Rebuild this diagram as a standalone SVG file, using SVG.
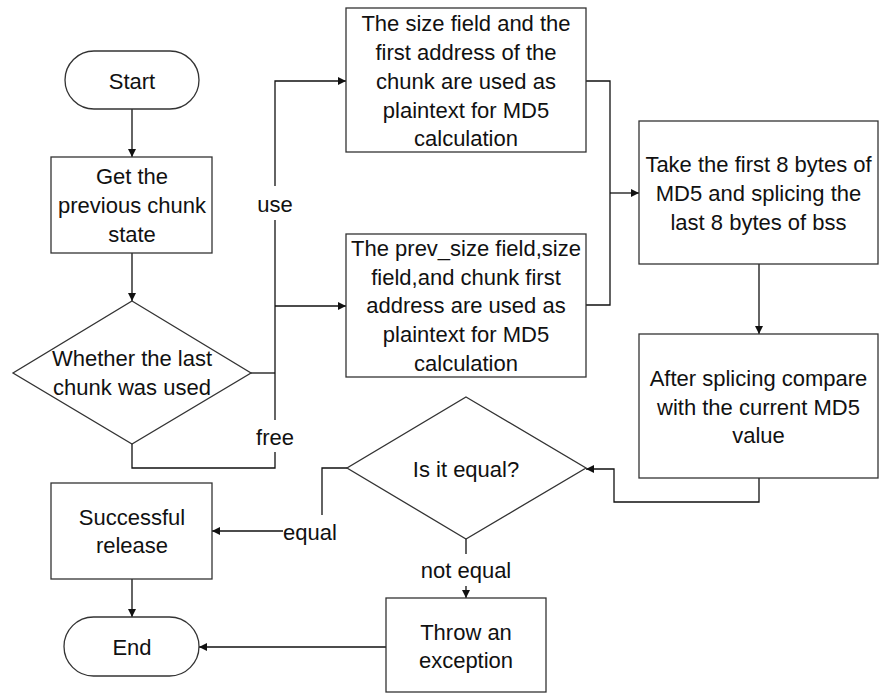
<svg xmlns="http://www.w3.org/2000/svg" width="887" height="695" viewBox="0 0 887 695">
<style>
.shape{fill:#fff;stroke:#333;stroke-width:1.3}
.line{fill:none;stroke:#111;stroke-width:1.3}
text{font-family:"Liberation Sans",Arial,sans-serif;font-size:22px;fill:#111;text-anchor:middle;dominant-baseline:central}
</style>
<defs>
<marker id="arr" viewBox="0 0 10 10" refX="10" refY="5" markerWidth="8" markerHeight="8" markerUnits="userSpaceOnUse" orient="auto">
<path d="M0,0 L10,5 L0,10 z" fill="#111"/>
</marker>
</defs>
<rect width="887" height="695" fill="#fff"/>
<g id="connectors">
<path class="line" d="M132,109 V157" marker-end="url(#arr)"/>
<path class="line" d="M132,253 V301" marker-end="url(#arr)"/>
<path class="line" d="M251,373 H275"/>
<path class="line" d="M275,186 V81 H346" marker-end="url(#arr)"/>
<path class="line" d="M275,220 V420"/>
<path class="line" d="M275,306 H346" marker-end="url(#arr)"/>
<path class="line" d="M275,452 V468 H132 V444"/>
<path class="line" d="M586,81 H610 V305 H586"/>
<path class="line" d="M610,193 H639" marker-end="url(#arr)"/>
<path class="line" d="M759,264 V334" marker-end="url(#arr)"/>
<path class="line" d="M759,478 V502 H614 V469 H586" marker-end="url(#arr)"/>
<path class="line" d="M347,468 H322 V515"/>
<path class="line" d="M283,531 H212" marker-end="url(#arr)"/>
<path class="line" d="M466,539 V554"/>
<path class="line" d="M466,586 V598" marker-end="url(#arr)"/>
<path class="line" d="M386,647 H199" marker-end="url(#arr)"/>
<path class="line" d="M132,579 V617" marker-end="url(#arr)"/>
<text x="275" y="204">use</text>
<text x="275" y="437">free</text>
<text x="310" y="532">equal</text>
<text x="466" y="570">not equal</text>
</g>
<g id="start">
<rect class="shape" x="65" y="51" width="134" height="58" rx="29" ry="29"/>
<text x="132" y="81">Start</text>
</g>
<g id="get-state">
<rect class="shape" x="51" y="157" width="161" height="96"/>
<text x="132" y="176">Get the</text>
<text x="132" y="205">previous chunk</text>
<text x="132" y="234">state</text>
</g>
<g id="decision-used">
<path class="shape" d="M132,301 L251,373 L132,444 L13,373 Z"/>
<text x="132" y="358">Whether the last</text>
<text x="132" y="387">chunk was used</text>
</g>
<g id="md5-size">
<rect class="shape" x="346" y="8" width="240" height="144"/>
<text x="466" y="23">The size field and the</text>
<text x="466" y="52">first address of the</text>
<text x="466" y="81">chunk are used as</text>
<text x="466" y="110">plaintext for MD5</text>
<text x="466" y="138">calculation</text>
</g>
<g id="md5-prev">
<rect class="shape" x="346" y="234" width="240" height="143"/>
<text x="466" y="248">The prev_size field,size</text>
<text x="466" y="277">field,and chunk first</text>
<text x="466" y="305">address are used as</text>
<text x="466" y="334">plaintext for MD5</text>
<text x="466" y="363">calculation</text>
</g>
<g id="splice">
<rect class="shape" x="639" y="121" width="239" height="143"/>
<text x="758.5" y="164">Take the first 8 bytes of</text>
<text x="758.5" y="193">MD5 and splicing the</text>
<text x="758.5" y="222">last 8 bytes of bss</text>
</g>
<g id="compare">
<rect class="shape" x="639" y="334" width="239" height="144"/>
<text x="758.5" y="378">After splicing compare</text>
<text x="758.5" y="407">with the current MD5</text>
<text x="758.5" y="435">value</text>
</g>
<g id="decision-equal">
<path class="shape" d="M466,397 L586,468 L466,539 L347,468 Z"/>
<text x="466" y="469">Is it equal?</text>
</g>
<g id="success">
<rect class="shape" x="51" y="483" width="161" height="96"/>
<text x="132" y="517">Successful</text>
<text x="132" y="545">release</text>
</g>
<g id="throw">
<rect class="shape" x="386" y="598" width="160" height="94"/>
<text x="466" y="632">Throw an</text>
<text x="466" y="660">exception</text>
</g>
<g id="end">
<rect class="shape" x="64" y="617" width="135" height="59" rx="29.5" ry="29.5"/>
<text x="132" y="647">End</text>
</g>
</svg>
